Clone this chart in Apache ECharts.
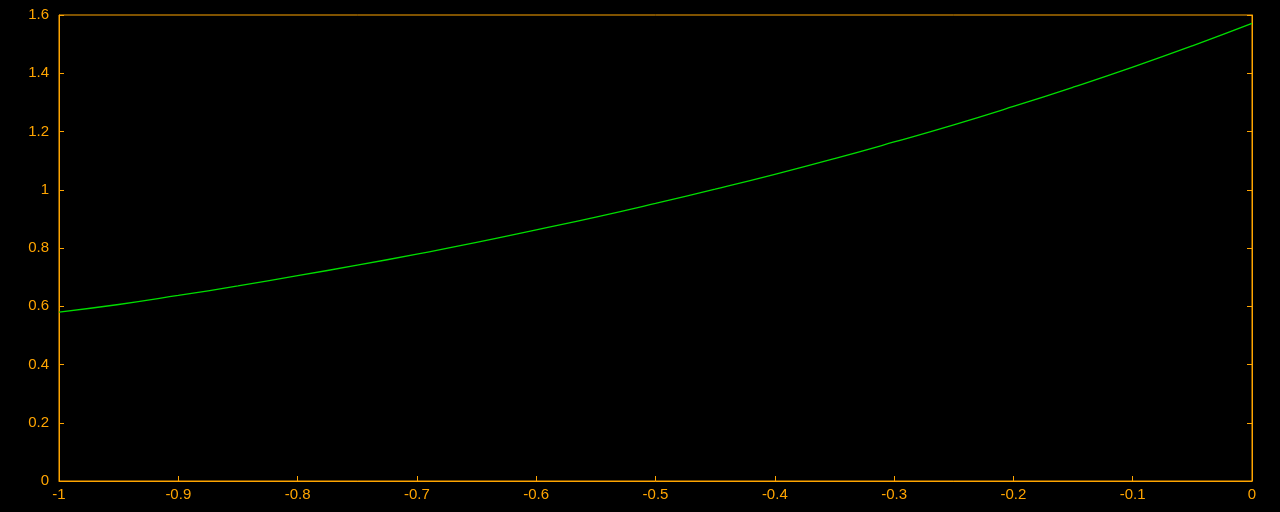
<!DOCTYPE html>
<html>
<head>
<meta charset="utf-8">
<script src="https://cdn.jsdelivr.net/npm/echarts@6/dist/echarts.min.js"></script>
<style>html,body{margin:0;padding:0;background:#000;}#c{width:1280px;height:512px;}</style>
</head>
<body>
<div id="c"></div>
<script>
const xValues = [-1, -0.95, -0.9, -0.85, -0.8, -0.75, -0.7, -0.65, -0.6, -0.55, -0.5, -0.45, -0.4, -0.35, -0.3, -0.25, -0.2, -0.15, -0.1, -0.05, 0];
const yValues = [0.580, 0.606, 0.637, 0.670, 0.705, 0.741, 0.779, 0.819, 0.862, 0.906, 0.953, 1.002, 1.053, 1.107, 1.164, 1.223, 1.286, 1.352, 1.421, 1.494, 1.571];

const orange = '#ffa500';
const chart = echarts.init(document.getElementById('c'));
const labelStyle = { color: orange, fontSize: 15, fontFamily: 'Liberation Sans, Arial, sans-serif' };
chart.setOption({
  backgroundColor: '#000',
  animation: false,
  grid: { left: 59, right: 28, top: 15, bottom: 31, show: true, borderColor: orange, borderWidth: 1, backgroundColor: 'transparent' },
  xAxis: [{
    type: 'value', min: -1, max: 0, interval: 0.1, position: 'bottom',
    axisLine: { show: true, onZero: false, lineStyle: { color: orange } },
    axisTick: { show: true, inside: true, length: 5, lineStyle: { color: orange } },
    axisLabel: Object.assign({ margin: 6 }, labelStyle),
    splitLine: { show: false }
  }],
  yAxis: [{
    type: 'value', min: 0, max: 1.6, interval: 0.2, position: 'left',
    axisLine: { show: true, onZero: false, lineStyle: { color: orange } },
    axisTick: { show: true, inside: true, length: 5, lineStyle: { color: orange } },
    axisLabel: Object.assign({ margin: 10 }, labelStyle),
    splitLine: { show: false }
  }, {
    type: 'value', min: 0, max: 1.6, interval: 0.2, position: 'right',
    axisLine: { show: true, onZero: false, lineStyle: { color: orange } },
    axisTick: { show: true, inside: true, length: 5, lineStyle: { color: orange } },
    axisLabel: { show: false },
    splitLine: { show: false }
  }],
  series: [{
    type: 'line',
    data: xValues.map((x, i) => [x, yValues[i]]),
    showSymbol: false,
    symbol: 'none',
    smooth: true,
    lineStyle: { color: '#00dd00', width: 1.3 }
  }]
});
</script>
</body>
</html>
